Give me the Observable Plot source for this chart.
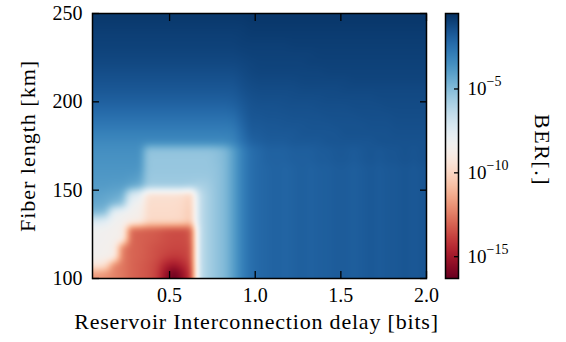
<!DOCTYPE html>
<html><head><meta charset="utf-8">
<script src="https://cdn.jsdelivr.net/npm/d3@7"></script>
<script src="https://cdn.jsdelivr.net/npm/@observablehq/plot@0.6"></script>
<style>
html,body{margin:0;padding:0;background:#fff;}
#wrap{position:relative;width:566px;height:342px;}
#wrap svg{position:absolute;left:0;top:0;}
</style></head><body><div id="wrap"></div>
<script>
// Axis ticks and extents
const xTicks = [0.5, 1.0, 1.5, 2.0];
const yTicks = [100, 150, 200, 250];
const cbExponents = [-5, -10, -15];
const xExtent = [0.05, 2.0];
const yExtent = [100, 250];
const berLog10Extent = [-16.3, -0.5];
const gridCols = 39; // delay cells 0.05..2.0, 0.05 bits each
const gridRows = 30; // fiber cells 250..100 km, 5 km each
const cellX = 0.05, cellY = 5;

// log10(BER), rows from 250 km (top) to 100 km (bottom)
// left part: delay 0.05 .. 0.95 bits (18 cells)
const leftPart = [
  [-0.75,-0.75,-0.75,-0.75,-0.75,-0.75,-0.75,-0.75,-0.75,-0.75,-0.75,-0.75,-0.75,-0.75,-0.75,-0.75,-0.75,-0.75],
  [-0.85,-0.85,-0.85,-0.85,-0.85,-0.85,-0.85,-0.85,-0.85,-0.85,-0.85,-0.85,-0.85,-0.85,-0.85,-0.85,-0.85,-0.85],
  [-0.95,-0.95,-0.95,-0.95,-0.95,-0.95,-0.95,-0.95,-0.95,-0.95,-0.95,-0.95,-0.95,-0.95,-0.95,-0.95,-0.95,-0.9],
  [-1.0,-1.0,-1.0,-1.0,-1.0,-1.0,-1.0,-1.0,-1.0,-1.0,-1.0,-1.0,-1.0,-1.0,-1.0,-1.0,-1.0,-0.95],
  [-1.1,-1.1,-1.1,-1.1,-1.1,-1.1,-1.1,-1.1,-1.1,-1.1,-1.1,-1.1,-1.1,-1.1,-1.1,-1.1,-1.1,-1.05],
  [-1.2,-1.2,-1.2,-1.2,-1.2,-1.2,-1.2,-1.2,-1.2,-1.2,-1.2,-1.2,-1.2,-1.2,-1.2,-1.2,-1.2,-1.15],
  [-1.35,-1.35,-1.35,-1.35,-1.35,-1.35,-1.35,-1.35,-1.35,-1.35,-1.35,-1.35,-1.35,-1.35,-1.35,-1.35,-1.35,-1.25],
  [-1.5,-1.5,-1.5,-1.5,-1.5,-1.5,-1.5,-1.5,-1.5,-1.5,-1.5,-1.5,-1.5,-1.5,-1.5,-1.5,-1.5,-1.35],
  [-1.65,-1.65,-1.65,-1.65,-1.65,-1.65,-1.65,-1.65,-1.65,-1.65,-1.65,-1.65,-1.65,-1.65,-1.65,-1.65,-1.65,-1.45],
  [-1.85,-1.85,-1.85,-1.85,-1.85,-1.85,-1.85,-1.85,-1.85,-1.85,-1.85,-1.85,-1.85,-1.85,-1.85,-1.85,-1.8,-1.6],
  [-2.1,-2.1,-2.1,-2.1,-2.1,-2.1,-2.1,-2.1,-2.1,-2.1,-2.1,-2.1,-2.1,-2.1,-2.1,-2.1,-2.0,-1.75],
  [-2.4,-2.4,-2.4,-2.4,-2.4,-2.4,-2.4,-2.4,-2.4,-2.4,-2.4,-2.4,-2.4,-2.4,-2.4,-2.4,-2.3,-1.9],
  [-2.7,-2.7,-2.7,-2.7,-2.7,-2.7,-2.7,-2.7,-2.7,-2.7,-2.7,-2.7,-2.7,-2.7,-2.7,-2.7,-2.6,-2.1],
  [-3.0,-3.0,-3.0,-3.0,-3.0,-3.0,-3.0,-3.0,-3.0,-3.0,-3.0,-3.0,-3.0,-3.0,-3.0,-3.0,-2.9,-2.3],
  [-3.3,-3.3,-3.3,-3.3,-3.3,-3.3,-3.3,-3.3,-3.3,-3.3,-3.3,-3.3,-3.3,-3.3,-3.3,-3.3,-3.1,-2.5],
  [-3.5,-3.5,-3.5,-3.5,-3.5,-3.5,-5.3,-5.3,-5.3,-5.3,-5.3,-5.3,-5.3,-5.3,-5.2,-4.9,-4.0,-3.0],
  [-3.6,-3.6,-3.6,-3.6,-3.6,-3.6,-5.4,-5.4,-5.4,-5.4,-5.4,-5.4,-5.4,-5.4,-5.2,-4.9,-4.0,-3.0],
  [-3.7,-3.7,-3.7,-3.7,-3.7,-3.7,-5.4,-5.4,-5.4,-5.4,-5.4,-5.4,-5.4,-5.4,-5.3,-4.9,-4.0,-3.0],
  [-3.8,-3.8,-3.8,-3.8,-3.9,-4.0,-5.5,-5.5,-5.5,-5.5,-5.5,-5.5,-5.5,-5.5,-5.3,-4.9,-4.0,-3.0],
  [-3.9,-3.9,-4.0,-4.0,-4.2,-4.5,-5.6,-5.6,-5.6,-5.6,-5.6,-5.7,-5.9,-5.7,-5.3,-4.9,-4.0,-3.0],
  [-4.1,-4.2,-4.3,-4.5,-7.2,-7.6,-9.6,-9.6,-9.6,-9.6,-9.7,-10.2,-6.5,-5.8,-5.3,-4.9,-4.0,-3.0],
  [-4.3,-4.4,-4.8,-5.2,-8.0,-8.3,-9.7,-9.7,-9.7,-9.7,-9.8,-10.3,-6.5,-5.8,-5.3,-4.9,-4.0,-3.0],
  [-4.8,-5.0,-7.8,-8.2,-8.5,-8.6,-9.8,-9.8,-9.8,-9.8,-9.9,-10.5,-6.5,-5.8,-5.3,-4.9,-4.0,-3.0],
  [-7.2,-7.5,-8.3,-8.4,-8.6,-8.8,-9.8,-9.8,-9.8,-9.8,-9.9,-10.5,-6.5,-5.8,-5.3,-4.9,-4.0,-3.0],
  [-8.3,-8.4,-8.5,-8.6,-13.0,-13.1,-13.2,-13.3,-13.5,-13.6,-13.6,-13.4,-6.5,-5.8,-5.3,-4.9,-4.0,-3.0],
  [-8.3,-8.4,-8.5,-8.6,-13.0,-13.1,-13.2,-13.3,-13.5,-13.6,-13.6,-13.4,-6.5,-5.8,-5.3,-4.9,-4.0,-3.0],
  [-8.4,-8.5,-8.6,-12.5,-13.0,-13.1,-13.3,-13.5,-13.6,-13.7,-13.7,-13.6,-6.5,-5.8,-5.3,-4.9,-4.0,-3.0],
  [-8.4,-8.5,-8.6,-12.5,-13.0,-13.1,-13.3,-13.5,-13.8,-14.0,-13.9,-13.6,-6.5,-5.8,-5.3,-4.9,-4.0,-3.0],
  [-9.3,-9.6,-12.3,-12.6,-13.0,-13.2,-13.4,-13.7,-14.6,-15.0,-14.5,-13.8,-6.5,-5.8,-5.3,-4.9,-4.0,-3.0],
  [-11.8,-12.0,-12.3,-12.6,-13.0,-13.2,-13.4,-13.8,-15.2,-16.3,-15.3,-14.0,-6.5,-5.8,-5.3,-4.9,-4.0,-3.0]
];
// right part: delay 0.95 .. 2.0 bits (21 cells)
const rightLow = [-2.4,-2.2,-2.1,-2.0,-2.1,-2.0,-1.9,-2.0,-1.9,-1.9,-1.8,-1.8,-1.9,-1.8,-1.7,-1.8,-1.7,-1.7,-1.6,-1.7,-1.6];
const rightMid = [-2.4,-2.2,-2.0,-2.0,-2.0,-1.9,-1.9,-1.9,-1.8,-1.8,-1.7,-1.7,-1.8,-1.7,-1.6,-1.7,-1.6,-1.6,-1.5,-1.6,-1.5];
const rightPart = [
  [-0.7,-0.7,-0.7,-0.7,-0.7,-0.7,-0.7,-0.7,-0.7,-0.7,-0.7,-0.7,-0.7,-0.7,-0.7,-0.7,-0.7,-0.7,-0.7,-0.7,-0.7],
  [-0.78,-0.78,-0.78,-0.78,-0.78,-0.78,-0.78,-0.78,-0.78,-0.78,-0.78,-0.78,-0.78,-0.78,-0.78,-0.78,-0.78,-0.78,-0.78,-0.78,-0.78],
  [-0.85,-0.85,-0.85,-0.85,-0.85,-0.85,-0.85,-0.85,-0.85,-0.85,-0.85,-0.85,-0.85,-0.85,-0.85,-0.85,-0.85,-0.85,-0.85,-0.85,-0.85],
  [-0.95,-0.95,-0.95,-0.95,-0.95,-0.9,-0.9,-0.9,-0.9,-0.9,-0.9,-0.9,-0.9,-0.9,-0.9,-0.9,-0.9,-0.9,-0.9,-0.9,-0.9],
  [-1.0,-1.0,-1.0,-1.0,-1.0,-1.0,-1.0,-1.0,-0.95,-0.95,-0.95,-0.95,-0.95,-0.95,-0.95,-0.95,-0.95,-0.95,-0.95,-0.95,-0.95],
  [-1.1,-1.05,-1.05,-1.05,-1.05,-1.05,-1.05,-1.0,-1.0,-1.0,-1.0,-1.0,-1.0,-1.0,-1.0,-1.0,-1.0,-1.0,-1.0,-1.0,-1.0],
  [-1.15,-1.1,-1.1,-1.1,-1.1,-1.1,-1.1,-1.1,-1.1,-1.05,-1.05,-1.05,-1.05,-1.05,-1.05,-1.05,-1.05,-1.05,-1.05,-1.05,-1.05],
  [-1.25,-1.2,-1.2,-1.2,-1.2,-1.2,-1.15,-1.15,-1.15,-1.15,-1.15,-1.15,-1.1,-1.1,-1.1,-1.1,-1.1,-1.1,-1.1,-1.1,-1.1],
  [-1.35,-1.3,-1.3,-1.3,-1.3,-1.3,-1.25,-1.25,-1.25,-1.25,-1.25,-1.2,-1.2,-1.2,-1.2,-1.2,-1.2,-1.2,-1.2,-1.2,-1.2],
  [-1.45,-1.4,-1.4,-1.4,-1.4,-1.35,-1.35,-1.35,-1.35,-1.3,-1.3,-1.3,-1.3,-1.3,-1.3,-1.25,-1.25,-1.25,-1.25,-1.25,-1.25],
  [-1.55,-1.5,-1.5,-1.5,-1.45,-1.45,-1.45,-1.45,-1.4,-1.4,-1.4,-1.4,-1.35,-1.35,-1.35,-1.35,-1.3,-1.3,-1.3,-1.3,-1.3],
  [-1.6,-1.6,-1.55,-1.55,-1.55,-1.5,-1.5,-1.5,-1.5,-1.45,-1.45,-1.45,-1.45,-1.4,-1.4,-1.4,-1.4,-1.35,-1.35,-1.35,-1.35],
  [-1.7,-1.7,-1.65,-1.65,-1.6,-1.6,-1.6,-1.55,-1.55,-1.55,-1.5,-1.5,-1.5,-1.5,-1.45,-1.45,-1.45,-1.4,-1.4,-1.4,-1.4],
  [-1.8,-1.8,-1.7,-1.7,-1.7,-1.7,-1.6,-1.6,-1.6,-1.6,-1.6,-1.5,-1.5,-1.5,-1.5,-1.5,-1.5,-1.45,-1.45,-1.45,-1.45],
  [-2.0,-1.9,-1.8,-1.8,-1.8,-1.7,-1.7,-1.7,-1.7,-1.6,-1.6,-1.6,-1.6,-1.6,-1.6,-1.5,-1.5,-1.5,-1.5,-1.5,-1.5],
  rightMid, rightMid,
  rightLow, rightLow, rightLow, rightLow, rightLow, rightLow, rightLow,
  rightLow, rightLow, rightLow, rightLow, rightLow, rightLow, rightLow
];

const xLabel = "Reservoir Interconnection delay [bits]";
const yLabel = "Fiber length [km]";
const cLabel = "BER[.]";

// one sample per grid cell, at the cell centre
const cells = leftPart.flatMap((row, r) => row.concat(rightPart[r]).map((v, c) => ({
  delay: xExtent[0] + cellX * (c + 0.5),
  fiber: yExtent[1] - cellY * (r + 0.5),
  ber: 10 ** v
})));

// smooth rendering of the cell grid (bilinear in log space, then a light gaussian soften),
// imitating the original's interpolated image
function smoothLog(index, width, height, X, Y, V) {
  const C = gridCols, R = gridRows;
  const cw = width / C, ch = height / R;
  const G = new Float64Array(C * R);
  for (const i of index) {
    const c = Math.max(0, Math.min(C - 1, Math.round(X[i] / cw - 0.5)));
    const r = Math.max(0, Math.min(R - 1, Math.round(Y[i] / ch - 0.5)));
    G[r * C + c] = Math.log10(V[i]);
  }
  const L = new Float64Array(width * height);
  for (let py = 0; py < height; ++py) {
    const gy = Math.max(0, Math.min(R - 1, (py + 0.5) / ch - 0.5));
    const r0 = Math.floor(gy), r1 = Math.min(R - 1, r0 + 1), fy = gy - r0;
    for (let px = 0; px < width; ++px) {
      const gx = Math.max(0, Math.min(C - 1, (px + 0.5) / cw - 0.5));
      const c0 = Math.floor(gx), c1 = Math.min(C - 1, c0 + 1), fx = gx - c0;
      L[py * width + px] = (1 - fx) * (1 - fy) * G[r0 * C + c0] + fx * (1 - fy) * G[r0 * C + c1]
                         + (1 - fx) * fy * G[r1 * C + c0] + fx * fy * G[r1 * C + c1];
    }
  }
  const sigma = 3, rad = 9;
  const K = [];
  let ks = 0;
  for (let k = -rad; k <= rad; ++k) { const w = Math.exp(-k * k / (2 * sigma * sigma)); K.push(w); ks += w; }
  const T = new Float64Array(width * height);
  for (let py = 0; py < height; ++py) for (let px = 0; px < width; ++px) {
    let s = 0;
    for (let k = -rad; k <= rad; ++k) s += K[k + rad] * L[py * width + Math.max(0, Math.min(width - 1, px + k))];
    T[py * width + px] = s / ks;
  }
  const out = new Array(width * height);
  for (let py = 0; py < height; ++py) for (let px = 0; px < width; ++px) {
    let s = 0;
    for (let k = -rad; k <= rad; ++k) s += K[k + rad] * T[Math.max(0, Math.min(height - 1, py + k)) * width + px];
    out[py * width + px] = 10 ** (s / ks);
  }
  return out;
}

const color = {type: "log", scheme: "RdBu", domain: berLog10Extent.map(e => 10 ** e)};
const font = {fontFamily: "'Liberation Serif', serif", fontSize: "20px", background: "transparent", overflow: "visible", color: "black"};

const main = Plot.plot({
  width: 566, height: 342,
  marginLeft: 92, marginRight: 140, marginTop: 13, marginBottom: 64,
  style: font,
  x: {domain: xExtent, label: null},
  y: {domain: yExtent, label: null},
  color,
  marks: [
    Plot.raster(cells, {x: "delay", y: "fiber", fill: "ber", x1: xExtent[0], x2: xExtent[1], y1: yExtent[1], y2: yExtent[0], pixelSize: 1, interpolate: smoothLog}),
    Plot.axisX({ticks: xTicks, label: null, tickSize: 0, tickPadding: 9, tickFormat: d => d.toFixed(1)}),
    Plot.axisY({ticks: yTicks, label: null, tickSize: 0, tickPadding: 10, tickFormat: d => String(d)}),
    Plot.axisX({ticks: xTicks, label: null, anchor: "bottom", tickSize: -7, strokeWidth: 1.3, tickFormat: () => ""}),
    Plot.axisX({ticks: xTicks, label: null, anchor: "top", tickSize: -7, strokeWidth: 1.3, tickFormat: () => ""}),
    Plot.axisY({ticks: yTicks, label: null, anchor: "left", tickSize: -7, strokeWidth: 1.3, tickFormat: () => ""}),
    Plot.axisY({ticks: yTicks, label: null, anchor: "right", tickSize: -7, strokeWidth: 1.3, tickFormat: () => ""}),
    Plot.frame({stroke: "black", strokeWidth: 1.5}),
    Plot.text([yLabel], {text: d => d, frameAnchor: "left", textAnchor: "middle", lineAnchor: "middle", dx: -65, rotate: -90, fontSize: 22}),
    Plot.text([xLabel], {text: d => d, frameAnchor: "bottom", textAnchor: "middle", lineAnchor: "middle", dy: 43, dx: -3, fontSize: 22})
  ]
});

const cbar = Plot.plot({
  width: 566, height: 342,
  marginLeft: 445, marginRight: 108, marginTop: 13, marginBottom: 64,
  style: font,
  x: {domain: [0, 1], axis: null, label: null},
  y: {domain: berLog10Extent, label: null},
  color,
  marks: [
    Plot.raster({x1: 0, x2: 1, y1: berLog10Extent[1], y2: berLog10Extent[0], fill: (x, y) => 10 ** y, pixelSize: 1}),
    Plot.axisY({ticks: cbExponents, label: null, anchor: "right", tickSize: -5, strokeWidth: 1.3, tickFormat: () => ""}),
    Plot.frame({stroke: "black", strokeWidth: 1.5}),
    Plot.text(cbExponents, {x: 1, y: d => d, text: () => "10", dx: 9, textAnchor: "start", fontSize: 19}),
    Plot.text(cbExponents, {x: 1, y: d => d, text: d => "\u2212" + (-d), dx: 28, dy: -7, fontSize: 14, textAnchor: "start"}),
    Plot.text([cLabel], {text: d => d, frameAnchor: "right", textAnchor: "middle", lineAnchor: "middle", dx: 84, dy: 4, rotate: 90, fontSize: 22})
  ]
});

const wrap = document.getElementById("wrap");
wrap.appendChild(main);
wrap.appendChild(cbar);
// slightly wider set labels, closer to the original's Computer Modern widths
d3.select(main).selectAll("text").filter(function() { return this.textContent === xLabel; }).style("letter-spacing", "0.8px");
d3.select(main).selectAll("text").filter(function() { return this.textContent === yLabel; }).style("letter-spacing", "1px");
d3.select(cbar).selectAll("text").filter(function() { return this.textContent === cLabel; }).style("letter-spacing", "1.5px");
</script></body></html>
